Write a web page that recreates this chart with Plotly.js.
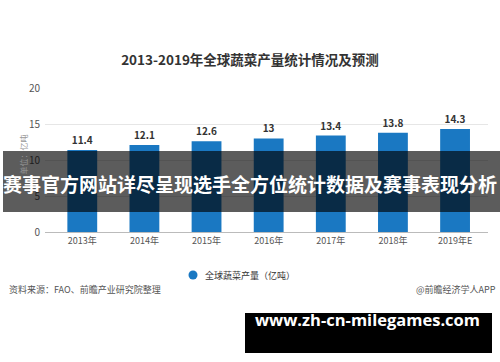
<!DOCTYPE html>
<html><head><meta charset="utf-8">
<script src="https://cdn.plot.ly/plotly-3.0.1.min.js"></script>
<style>html,body{margin:0;padding:0;background:#fff}#c{width:500px;height:362px}</style>
</head><body><div id="c"></div>
<script>
const categories = ["2013年","2014年","2015年","2016年","2017年","2018年","2019年E"];
const values = [11.4, 12.1, 12.6, 13, 13.4, 13.8, 14.3];
const yTicks = [0, 5, 10, 15, 20];
const titleText = "2013-2019年全球蔬菜产量统计情况及预测";
const seriesName = "全球蔬菜产量（亿吨）";
const unitText = "单位：亿吨";
const sourceText = "资料来源：FAO、前瞻产业研究院整理";
const creditText = "@前瞻经济学人APP";
const bannerText = "赛事官方网站详尽呈现选手全方位统计数据及赛事表现分析";
const urlText = "www.zh-cn-milegames.com";

const W = 500, H = 362, L = 45, R = 12, T = 88, B = 130;
const PW = W - L - R, PH = H - T - B;
const px = x => (x - L) / PW;
const py = y => 1 - (y - T) / PH;
const CJK = '"Noto Sans CJK SC", "Noto Sans", sans-serif';
const BLUE = '#1a78c2';

const traces = [
  {type:'bar', x: categories, y: values, name: seriesName, marker:{color:BLUE},
   text: values.map(String), textposition:'outside', cliponaxis:false,
   textfont:{family:CJK, size:10, color:'#333', weight:'bold'},
   showlegend:false, hoverinfo:'none'}
];

const layout = {
  width: W, height: H,
  margin:{l:L, r:R, t:T, b:B, pad:0},
  paper_bgcolor:'#fff', plot_bgcolor:'#fff',
  font:{family:CJK, color:'#555'},
  title:{text: titleText, x:0.5, xanchor:'center', xref:'container', y: 1 - 60/H, yanchor:'middle',
         font:{family:CJK, size:13.5, color:'#333', weight:'bold'}},
  bargap: 0.52,
  xaxis:{range:[-0.6, 6.53], showgrid:false, showline:true, linecolor:'#bbb', linewidth:1,
         ticks:'', tickfont:{size:9, color:'#555'}, fixedrange:true},
  yaxis:{range:[0,20], tickvals:yTicks, showgrid:true, gridcolor:'#e6e6e6', zeroline:false,
         showline:false, ticks:'', tickfont:{size:10, color:'#555'}, ticklabelstandoff:4, fixedrange:true},
  showlegend:false,
  shapes:[
    {type:'circle', xref:'paper', yref:'paper', x0:px(188.5), x1:px(197.5), y0:py(270.5), y1:py(279.5),
     fillcolor:BLUE, line:{width:0}},
    {type:'rect', xref:'paper', yref:'paper', x0:px(3), x1:px(500), y0:py(151), y1:py(212),
     fillcolor:'rgba(0,0,0,0.64)', line:{width:0}, layer:'above'},
    {type:'rect', xref:'paper', yref:'paper', x0:px(245), x1:px(492), y0:py(313), y1:py(353),
     fillcolor:'#000', line:{width:0}, layer:'above'}
  ],
  annotations:[
    {text: seriesName, xref:'paper', yref:'paper', x:px(203), y:py(275), xanchor:'left', yanchor:'middle',
     showarrow:false, font:{size:9, color:'#333'}},
    {text: unitText, xref:'paper', yref:'paper', x:px(15), y:py(155), textangle:-90,
     showarrow:false, font:{size:8, color:'#999'}},
    {text: sourceText, xref:'paper', yref:'paper', x:px(7), y:py(298), xanchor:'left',
     showarrow:false, font:{size:9, color:'#555'}},
    {text: creditText, xref:'paper', yref:'paper', x:px(498), y:py(298), xanchor:'right',
     showarrow:false, font:{size:9, color:'#555'}},
    {text: bannerText, xref:'paper', yref:'paper', x:px(250), y:py(183), xanchor:'center',
     showarrow:false, font:{family:CJK, size:19, color:'#fff', weight:'bold'}},
    {text: urlText, xref:'paper', yref:'paper', x:px(367), y:py(333), xanchor:'center',
     showarrow:false, font:{family:'"Open Sans", "DejaVu Sans", sans-serif', size:16.5, color:'#fff', weight:'bold'}}
  ]
};
Plotly.newPlot('c', traces, layout, {displayModeBar:false, staticPlot:true});
</script></body></html>
